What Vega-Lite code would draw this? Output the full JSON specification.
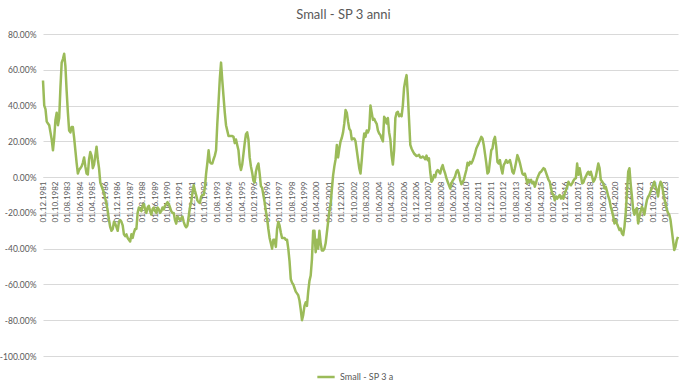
{
"$schema":"https://vega.github.io/schema/vega-lite/v6.json",
"width":635,"height":322,
"autosize":{"type":"none"},
"padding":{"left":43,"top":34,"right":10,"bottom":32},
"background":"white",
"title":{"text":"Small - SP 3 anni","font":"Lato","fontSize":13,"fontWeight":"normal","color":"#595959","anchor":"middle","baseline":"bottom","offset":-5,"dx":-17},
"config":{"view":{"stroke":null},"font":"Lato"},
"data":{"values":[
{"d":"01.12.1981","v":54},
{"d":"01.01.1982","v":40},{"d":"01.02.1982","v":38},{"d":"01.03.1982","v":31},{"d":"01.04.1982","v":30},{"d":"01.05.1982","v":29},{"d":"01.06.1982","v":25},{"d":"01.07.1982","v":21},{"d":"01.08.1982","v":15},{"d":"01.09.1982","v":22},{"d":"01.10.1982","v":32},{"d":"01.11.1982","v":36},{"d":"01.12.1982","v":29},
{"d":"01.01.1983","v":33},{"d":"01.02.1983","v":50},{"d":"01.03.1983","v":64},{"d":"01.04.1983","v":66},{"d":"01.05.1983","v":69},{"d":"01.06.1983","v":62},{"d":"01.07.1983","v":48},{"d":"01.08.1983","v":36},{"d":"01.09.1983","v":26},{"d":"01.10.1983","v":25},{"d":"01.11.1983","v":28},{"d":"01.12.1983","v":28},
{"d":"01.01.1984","v":22},{"d":"01.02.1984","v":15},{"d":"01.03.1984","v":8},{"d":"01.04.1984","v":2},{"d":"01.05.1984","v":4},{"d":"01.06.1984","v":5},{"d":"01.07.1984","v":6},{"d":"01.08.1984","v":8},{"d":"01.09.1984","v":11},{"d":"01.10.1984","v":6},{"d":"01.11.1984","v":2},{"d":"01.12.1984","v":1.5},
{"d":"01.01.1985","v":10},{"d":"01.02.1985","v":14},{"d":"01.03.1985","v":12},{"d":"01.04.1985","v":5},{"d":"01.05.1985","v":7},{"d":"01.06.1985","v":12},{"d":"01.07.1985","v":17},{"d":"01.08.1985","v":10},{"d":"01.09.1985","v":5},{"d":"01.10.1985","v":-3},{"d":"01.11.1985","v":-5},{"d":"01.12.1985","v":-7},
{"d":"01.01.1986","v":-9},{"d":"01.02.1986","v":-12},{"d":"01.03.1986","v":-15},{"d":"01.04.1986","v":-19},{"d":"01.05.1986","v":-24},{"d":"01.06.1986","v":-28},{"d":"01.07.1986","v":-30},{"d":"01.08.1986","v":-29},{"d":"01.09.1986","v":-25},{"d":"01.10.1986","v":-26},{"d":"01.11.1986","v":-28},{"d":"01.12.1986","v":-30},
{"d":"01.01.1987","v":-25},{"d":"01.02.1987","v":-24},{"d":"01.03.1987","v":-25},{"d":"01.04.1987","v":-27},{"d":"01.05.1987","v":-32},{"d":"01.06.1987","v":-33},{"d":"01.07.1987","v":-32},{"d":"01.08.1987","v":-34},{"d":"01.09.1987","v":-35},{"d":"01.10.1987","v":-36},{"d":"01.11.1987","v":-32},{"d":"01.12.1987","v":-34},
{"d":"01.01.1988","v":-31},{"d":"01.02.1988","v":-29},{"d":"01.03.1988","v":-29},{"d":"01.04.1988","v":-20},{"d":"01.05.1988","v":-17},{"d":"01.06.1988","v":-18},{"d":"01.07.1988","v":-19},{"d":"01.08.1988","v":-16},{"d":"01.09.1988","v":-15},{"d":"01.10.1988","v":-18},{"d":"01.11.1988","v":-20},{"d":"01.12.1988","v":-17},
{"d":"01.01.1989","v":-16},{"d":"01.02.1989","v":-19},{"d":"01.03.1989","v":-21},{"d":"01.04.1989","v":-18},{"d":"01.05.1989","v":-17},{"d":"01.06.1989","v":-19},{"d":"01.07.1989","v":-20},{"d":"01.08.1989","v":-17},{"d":"01.09.1989","v":-18},{"d":"01.10.1989","v":-20},{"d":"01.11.1989","v":-19},{"d":"01.12.1989","v":-17},
{"d":"01.01.1990","v":-18},{"d":"01.02.1990","v":-16},{"d":"01.03.1990","v":-15},{"d":"01.04.1990","v":-14},{"d":"01.05.1990","v":-15},{"d":"01.06.1990","v":-17},{"d":"01.07.1990","v":-19},{"d":"01.08.1990","v":-20},{"d":"01.09.1990","v":-20},{"d":"01.10.1990","v":-24},{"d":"01.11.1990","v":-26},{"d":"01.12.1990","v":-22},
{"d":"01.01.1991","v":-23},{"d":"01.02.1991","v":-24},{"d":"01.03.1991","v":-23},{"d":"01.04.1991","v":-22},{"d":"01.05.1991","v":-25},{"d":"01.06.1991","v":-27},{"d":"01.07.1991","v":-28},{"d":"01.08.1991","v":-27},{"d":"01.09.1991","v":-22},{"d":"01.10.1991","v":-17},{"d":"01.11.1991","v":-14},{"d":"01.12.1991","v":-9},
{"d":"01.01.1992","v":-4.5},{"d":"01.02.1992","v":-7.5},{"d":"01.03.1992","v":-10},{"d":"01.04.1992","v":-13},{"d":"01.05.1992","v":-14},{"d":"01.06.1992","v":-14.5},{"d":"01.07.1992","v":-11},{"d":"01.08.1992","v":-10},{"d":"01.09.1992","v":-10},{"d":"01.10.1992","v":-6},{"d":"01.11.1992","v":2},{"d":"01.12.1992","v":8},
{"d":"01.01.1993","v":15},{"d":"01.02.1993","v":8.5},{"d":"01.03.1993","v":7.6},{"d":"01.04.1993","v":7.6},{"d":"01.05.1993","v":10},{"d":"01.06.1993","v":12},{"d":"01.07.1993","v":15},{"d":"01.08.1993","v":30},{"d":"01.09.1993","v":42},{"d":"01.10.1993","v":55},{"d":"01.11.1993","v":64},{"d":"01.12.1993","v":54},
{"d":"01.01.1994","v":45},{"d":"01.02.1994","v":36},{"d":"01.03.1994","v":29},{"d":"01.04.1994","v":26},{"d":"01.05.1994","v":23},{"d":"01.06.1994","v":23},{"d":"01.07.1994","v":23},{"d":"01.08.1994","v":23},{"d":"01.09.1994","v":22.5},{"d":"01.10.1994","v":19},{"d":"01.11.1994","v":21},{"d":"01.12.1994","v":18},
{"d":"01.01.1995","v":15},{"d":"01.02.1995","v":7},{"d":"01.03.1995","v":4},{"d":"01.04.1995","v":7},{"d":"01.05.1995","v":13},{"d":"01.06.1995","v":19},{"d":"01.07.1995","v":24},{"d":"01.08.1995","v":25},{"d":"01.09.1995","v":21},{"d":"01.10.1995","v":11},{"d":"01.11.1995","v":6},{"d":"01.12.1995","v":2.5},
{"d":"01.01.1996","v":-2},{"d":"01.02.1996","v":-3},{"d":"01.03.1996","v":3},{"d":"01.04.1996","v":6},{"d":"01.05.1996","v":7.6},{"d":"01.06.1996","v":2},{"d":"01.07.1996","v":-5},{"d":"01.08.1996","v":-6},{"d":"01.09.1996","v":-10},{"d":"01.10.1996","v":-14},{"d":"01.11.1996","v":-19},{"d":"01.12.1996","v":-23},
{"d":"01.01.1997","v":-29},{"d":"01.02.1997","v":-34},{"d":"01.03.1997","v":-37},{"d":"01.04.1997","v":-40},{"d":"01.05.1997","v":-35},{"d":"01.06.1997","v":-35},{"d":"01.07.1997","v":-39},{"d":"01.08.1997","v":-29},{"d":"01.09.1997","v":-25},{"d":"01.10.1997","v":-27},{"d":"01.11.1997","v":-31},{"d":"01.12.1997","v":-34},
{"d":"01.01.1998","v":-34},{"d":"01.02.1998","v":-34},{"d":"01.03.1998","v":-35},{"d":"01.04.1998","v":-35},{"d":"01.05.1998","v":-40},{"d":"01.06.1998","v":-47},{"d":"01.07.1998","v":-57},{"d":"01.08.1998","v":-59},{"d":"01.09.1998","v":-60},{"d":"01.10.1998","v":-62},{"d":"01.11.1998","v":-64},{"d":"01.12.1998","v":-65},
{"d":"01.01.1999","v":-66},{"d":"01.02.1999","v":-69},{"d":"01.03.1999","v":-74},{"d":"01.04.1999","v":-80},{"d":"01.05.1999","v":-77},{"d":"01.06.1999","v":-72},{"d":"01.07.1999","v":-70},{"d":"01.08.1999","v":-72},{"d":"01.09.1999","v":-64},{"d":"01.10.1999","v":-58},{"d":"01.11.1999","v":-55},{"d":"01.12.1999","v":-46},
{"d":"01.01.2000","v":-30},{"d":"01.02.2000","v":-30},{"d":"01.03.2000","v":-42},{"d":"01.04.2000","v":-35},{"d":"01.05.2000","v":-40},{"d":"01.06.2000","v":-30},{"d":"01.07.2000","v":-37},{"d":"01.08.2000","v":-41},{"d":"01.09.2000","v":-41},{"d":"01.10.2000","v":-40},{"d":"01.11.2000","v":-37},{"d":"01.12.2000","v":-31},
{"d":"01.01.2001","v":-25},{"d":"01.02.2001","v":-19},{"d":"01.03.2001","v":-15},{"d":"01.04.2001","v":-7},{"d":"01.05.2001","v":1},{"d":"01.06.2001","v":6},{"d":"01.07.2001","v":10},{"d":"01.08.2001","v":18},{"d":"01.09.2001","v":11},{"d":"01.10.2001","v":16},{"d":"01.11.2001","v":20},{"d":"01.12.2001","v":22},
{"d":"01.01.2002","v":25},{"d":"01.02.2002","v":30},{"d":"01.03.2002","v":37.5},{"d":"01.04.2002","v":36},{"d":"01.05.2002","v":31},{"d":"01.06.2002","v":27},{"d":"01.07.2002","v":26},{"d":"01.08.2002","v":21},{"d":"01.09.2002","v":21.6},{"d":"01.10.2002","v":21.6},{"d":"01.11.2002","v":20},{"d":"01.12.2002","v":15},
{"d":"01.01.2003","v":10},{"d":"01.02.2003","v":5},{"d":"01.03.2003","v":2},{"d":"01.04.2003","v":9.5},{"d":"01.05.2003","v":18.8},{"d":"01.06.2003","v":24.4},{"d":"01.07.2003","v":22.5},{"d":"01.08.2003","v":26},{"d":"01.09.2003","v":25},{"d":"01.10.2003","v":27},{"d":"01.11.2003","v":40},{"d":"01.12.2003","v":36},
{"d":"01.01.2004","v":32},{"d":"01.02.2004","v":32.6},{"d":"01.03.2004","v":31},{"d":"01.04.2004","v":29.8},{"d":"01.05.2004","v":26},{"d":"01.06.2004","v":24.4},{"d":"01.07.2004","v":23.5},{"d":"01.08.2004","v":21.6},{"d":"01.09.2004","v":20},{"d":"01.10.2004","v":33.7},{"d":"01.11.2004","v":32.6},{"d":"01.12.2004","v":30},
{"d":"01.01.2005","v":33},{"d":"01.02.2005","v":25},{"d":"01.03.2005","v":21},{"d":"01.04.2005","v":12},{"d":"01.05.2005","v":7},{"d":"01.06.2005","v":15},{"d":"01.07.2005","v":33},{"d":"01.08.2005","v":36},{"d":"01.09.2005","v":36.5},{"d":"01.10.2005","v":34},{"d":"01.11.2005","v":35},{"d":"01.12.2005","v":34},
{"d":"01.01.2006","v":40},{"d":"01.02.2006","v":50},{"d":"01.03.2006","v":54},{"d":"01.04.2006","v":57},{"d":"01.05.2006","v":46},{"d":"01.06.2006","v":32},{"d":"01.07.2006","v":18},{"d":"01.08.2006","v":16},{"d":"01.09.2006","v":14.5},{"d":"01.10.2006","v":13.2},{"d":"01.11.2006","v":12.5},{"d":"01.12.2006","v":11.8},
{"d":"01.01.2007","v":12},{"d":"01.02.2007","v":12.5},{"d":"01.03.2007","v":11},{"d":"01.04.2007","v":11},{"d":"01.05.2007","v":11.5},{"d":"01.06.2007","v":11},{"d":"01.07.2007","v":10},{"d":"01.08.2007","v":12},{"d":"01.09.2007","v":9.5},{"d":"01.10.2007","v":10.5},{"d":"01.11.2007","v":3},{"d":"01.12.2007","v":-2.6},
{"d":"01.01.2008","v":-1.5},{"d":"01.02.2008","v":1.1},{"d":"01.03.2008","v":0},{"d":"01.04.2008","v":3},{"d":"01.05.2008","v":4},{"d":"01.06.2008","v":3},{"d":"01.07.2008","v":2},{"d":"01.08.2008","v":5},{"d":"01.09.2008","v":6.7},{"d":"01.10.2008","v":4},{"d":"01.11.2008","v":2},{"d":"01.12.2008","v":-0.6},
{"d":"01.01.2009","v":-2.6},{"d":"01.02.2009","v":-4.5},{"d":"01.03.2009","v":-6.3},{"d":"01.04.2009","v":-3.5},{"d":"01.05.2009","v":-2},{"d":"01.06.2009","v":-1},{"d":"01.07.2009","v":0.4},{"d":"01.08.2009","v":3},{"d":"01.09.2009","v":4},{"d":"01.10.2009","v":2},{"d":"01.11.2009","v":-1.5},{"d":"01.12.2009","v":-4},
{"d":"01.01.2010","v":-3},{"d":"01.02.2010","v":-1.5},{"d":"01.03.2010","v":1.3},{"d":"01.04.2010","v":4},{"d":"01.05.2010","v":8},{"d":"01.06.2010","v":6.7},{"d":"01.07.2010","v":8.5},{"d":"01.08.2010","v":7.6},{"d":"01.09.2010","v":9},{"d":"01.10.2010","v":11},{"d":"01.11.2010","v":13.2},{"d":"01.12.2010","v":16},
{"d":"01.01.2011","v":17.5},{"d":"01.02.2011","v":19},{"d":"01.03.2011","v":20.7},{"d":"01.04.2011","v":22.5},{"d":"01.05.2011","v":21.6},{"d":"01.06.2011","v":18},{"d":"01.07.2011","v":13},{"d":"01.08.2011","v":8},{"d":"01.09.2011","v":2},{"d":"01.10.2011","v":3},{"d":"01.11.2011","v":9},{"d":"01.12.2011","v":15},
{"d":"01.01.2012","v":16},{"d":"01.02.2012","v":20.7},{"d":"01.03.2012","v":22.5},{"d":"01.04.2012","v":17},{"d":"01.05.2012","v":8.5},{"d":"01.06.2012","v":7.6},{"d":"01.07.2012","v":9.5},{"d":"01.08.2012","v":5},{"d":"01.09.2012","v":2},{"d":"01.10.2012","v":6.7},{"d":"01.11.2012","v":8},{"d":"01.12.2012","v":9.5},
{"d":"01.01.2013","v":8},{"d":"01.02.2013","v":8.5},{"d":"01.03.2013","v":9.5},{"d":"01.04.2013","v":6.7},{"d":"01.05.2013","v":3},{"d":"01.06.2013","v":2},{"d":"01.07.2013","v":5},{"d":"01.08.2013","v":8.5},{"d":"01.09.2013","v":12.3},{"d":"01.10.2013","v":10.5},{"d":"01.11.2013","v":8},{"d":"01.12.2013","v":5},
{"d":"01.01.2014","v":2},{"d":"01.02.2014","v":1.3},{"d":"01.03.2014","v":2},{"d":"01.04.2014","v":-0.6},{"d":"01.05.2014","v":-3.5},{"d":"01.06.2014","v":-1.5},{"d":"01.07.2014","v":-2.6},{"d":"01.08.2014","v":-1.5},{"d":"01.09.2014","v":-3.5},{"d":"01.10.2014","v":-2.6},{"d":"01.11.2014","v":-5.4},{"d":"01.12.2014","v":-3},
{"d":"01.01.2015","v":-0.6},{"d":"01.02.2015","v":1},{"d":"01.03.2015","v":2.5},{"d":"01.04.2015","v":3},{"d":"01.05.2015","v":4},{"d":"01.06.2015","v":5},{"d":"01.07.2015","v":4.5},{"d":"01.08.2015","v":2.5},{"d":"01.09.2015","v":0.5},{"d":"01.10.2015","v":-1.5},{"d":"01.11.2015","v":-2.6},{"d":"01.12.2015","v":-6.3},
{"d":"01.01.2016","v":-9},{"d":"01.02.2016","v":-10},{"d":"01.03.2016","v":-12.9},{"d":"01.04.2016","v":-10.8},{"d":"01.05.2016","v":-12},{"d":"01.06.2016","v":-11},{"d":"01.07.2016","v":-10},{"d":"01.08.2016","v":-12},{"d":"01.09.2016","v":-10.8},{"d":"01.10.2016","v":-12},{"d":"01.11.2016","v":-9},{"d":"01.12.2016","v":-7.3},
{"d":"01.01.2017","v":-5.4},{"d":"01.02.2017","v":-2.6},{"d":"01.03.2017","v":-4},{"d":"01.04.2017","v":-4.5},{"d":"01.05.2017","v":-3.5},{"d":"01.06.2017","v":-2},{"d":"01.07.2017","v":-1},{"d":"01.08.2017","v":-0.6},{"d":"01.09.2017","v":7.6},{"d":"01.10.2017","v":1.3},{"d":"01.11.2017","v":5},{"d":"01.12.2017","v":1},
{"d":"01.01.2018","v":-3.5},{"d":"01.02.2018","v":-3},{"d":"01.03.2018","v":-1},{"d":"01.04.2018","v":0.4},{"d":"01.05.2018","v":2},{"d":"01.06.2018","v":3},{"d":"01.07.2018","v":1.3},{"d":"01.08.2018","v":3},{"d":"01.09.2018","v":0.4},{"d":"01.10.2018","v":-2.6},{"d":"01.11.2018","v":-1.5},{"d":"01.12.2018","v":0.4},
{"d":"01.01.2019","v":4},{"d":"01.02.2019","v":7.6},{"d":"01.03.2019","v":5},{"d":"01.04.2019","v":-1.5},{"d":"01.05.2019","v":-2.5},{"d":"01.06.2019","v":-3.5},{"d":"01.07.2019","v":-6.3},{"d":"01.08.2019","v":-5.4},{"d":"01.09.2019","v":-8},{"d":"01.10.2019","v":-10.8},{"d":"01.11.2019","v":-12.9},{"d":"01.12.2019","v":-16.6},
{"d":"01.01.2020","v":-19},{"d":"01.02.2020","v":-22},{"d":"01.03.2020","v":-25.9},{"d":"01.04.2020","v":-24},{"d":"01.05.2020","v":-26},{"d":"01.06.2020","v":-27.8},{"d":"01.07.2020","v":-29.6},{"d":"01.08.2020","v":-28.7},{"d":"01.09.2020","v":-31.5},{"d":"01.10.2020","v":-32.4},{"d":"01.11.2020","v":-27.8},{"d":"01.12.2020","v":-20},
{"d":"01.01.2021","v":-9},{"d":"01.02.2021","v":3},{"d":"01.03.2021","v":5},{"d":"01.04.2021","v":-4},{"d":"01.05.2021","v":-10.8},{"d":"01.06.2021","v":-18.2},{"d":"01.07.2021","v":-21},{"d":"01.08.2021","v":-18.2},{"d":"01.09.2021","v":-17.3},{"d":"01.10.2021","v":-25.9},{"d":"01.11.2021","v":-22},{"d":"01.12.2021","v":-19},
{"d":"01.01.2022","v":-16.6},{"d":"01.02.2022","v":-18.2},{"d":"01.03.2022","v":-21},{"d":"01.04.2022","v":-16.6},{"d":"01.05.2022","v":-12.9},{"d":"01.06.2022","v":-11},{"d":"01.07.2022","v":-10},{"d":"01.08.2022","v":-8},{"d":"01.09.2022","v":-6.3},{"d":"01.10.2022","v":-4.5},{"d":"01.11.2022","v":-2.6},{"d":"01.12.2022","v":-5.4},
{"d":"01.01.2023","v":-7.3},{"d":"01.02.2023","v":-10.8},{"d":"01.03.2023","v":-5},{"d":"01.04.2023","v":-2.6},{"d":"01.05.2023","v":-4},{"d":"01.06.2023","v":-8},{"d":"01.07.2023","v":-12},{"d":"01.08.2023","v":-14.7},{"d":"01.09.2023","v":-18.2},{"d":"01.10.2023","v":-20},{"d":"01.11.2023","v":-21},{"d":"01.12.2023","v":-24},
{"d":"01.01.2024","v":-29.6},{"d":"01.02.2024","v":-35.2},{"d":"01.03.2024","v":-40.8},{"d":"01.04.2024","v":-39},{"d":"01.05.2024","v":-35.2},{"d":"01.06.2024","v":-33.4}
]},
"mark":{"type":"line","strokeWidth":2.5,"strokeJoin":"round"},
"encoding":{
"x":{"field":"d","type":"ordinal","sort":null,"title":null,
"scale":{"type":"point","padding":0},
"axis":{"orient":"bottom","offset":-179,"labelAngle":-90,"labelFontSize":8,"labelColor":"#595959","labelPadding":4,"ticks":false,"domainColor":"#d9d9d9","domainWidth":1,"grid":false,"labelOverlap":false,"labelBound":false,"labelFlush":false,
"values":["01.12.1981","01.10.1982","01.08.1983","01.06.1984","01.04.1985","01.02.1986","01.12.1986","01.10.1987","01.08.1988","01.06.1989","01.04.1990","01.02.1991","01.12.1991","01.10.1992","01.08.1993","01.06.1994","01.04.1995","01.02.1996","01.12.1996","01.10.1997","01.08.1998","01.06.1999","01.04.2000","01.02.2001","01.12.2001","01.10.2002","01.08.2003","01.06.2004","01.04.2005","01.02.2006","01.12.2006","01.10.2007","01.08.2008","01.06.2009","01.04.2010","01.02.2011","01.12.2011","01.10.2012","01.08.2013","01.06.2014","01.04.2015","01.02.2016","01.12.2016","01.10.2017","01.08.2018","01.06.2019","01.04.2020","01.02.2021","01.12.2021","01.10.2022","01.08.2023"]}},
"y":{"field":"v","type":"quantitative","title":null,
"scale":{"domain":[-100,80],"nice":false,"zero":false},
"axis":{"values":[-100,-80,-60,-40,-20,0,20,40,60,80],"labelExpr":"(datum.value<0?'-':'')+format(abs(datum.value),'.2f')+'%'","labelFontSize":8.5,"labelColor":"#595959","labelPadding":7,"ticks":false,"domain":false,"gridColor":"#d9d9d9","gridWidth":1}},
"color":{"datum":"Small - SP 3 a","type":"nominal","scale":{"range":["#9BBB59"]},
"legend":{"title":null,"orient":"none","legendX":273,"legendY":333,"direction":"horizontal","symbolType":"stroke","symbolStrokeWidth":2.5,"symbolSize":300,"labelFontSize":9,"labelColor":"#595959"}}
}
}
